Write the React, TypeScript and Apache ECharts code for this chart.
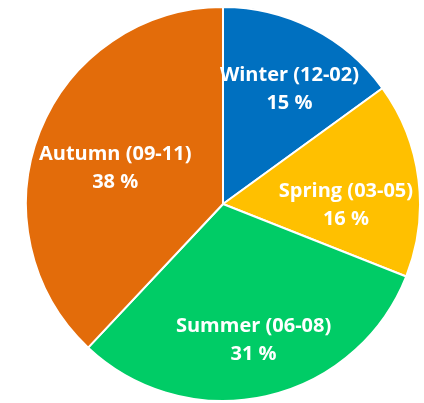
import React, { useEffect, useRef } from "react";
import * as echarts from "echarts";

const seasons = ["Winter (12-02)", "Spring (03-05)", "Summer (06-08)", "Autumn (09-11)"];
const shares = [15, 16, 31, 38];

// styling
const colors = ["#0070C0", "#FFC000", "#00CC66", "#E36C0A"];
const labelNudges = [[7, 0], [-7, 16], [2, 7], [14, 11]];

export default function App() {
  const ref = useRef<HTMLDivElement>(null);
  useEffect(() => {
    if (!ref.current) return;
    const chart = echarts.init(ref.current, undefined, { renderer: "svg" });
    const slices = seasons.map((name, i) => ({ name, value: shares[i], itemStyle: { color: colors[i] } }));
    chart.setOption({
      animation: false,
      series: [
        {
          type: "pie",
          center: [223, 204],
          radius: [0, 197],
          startAngle: 90,
          clockwise: true,
          silent: true,
          data: slices,
          itemStyle: { borderColor: "#fff", borderWidth: 2 },
          label: { show: false },
          labelLine: { show: false },
        },
        {
          type: "pie",
          center: [223, 204],
          radius: [120, 136],
          startAngle: 90,
          clockwise: true,
          silent: true,
          data: seasons.map((name, i) => ({
            name,
            value: shares[i],
            label: { offset: labelNudges[i] },
          })),
          itemStyle: { color: "transparent", borderWidth: 0 },
          label: {
            show: true,
            position: "inside",
            formatter: (p: any) => `${p.name}\n${p.value} %`,
            color: "#fff",
            fontFamily: "Open Sans",
            fontWeight: "bold",
            fontSize: 20,
            lineHeight: 28,
            align: "center",
          },
          labelLine: { show: false },
        },
      ],
    });
    return () => chart.dispose();
  }, []);
  return <div ref={ref} style={{ position: "fixed", left: 0, top: 0, width: 424, height: 403 }} />;
}
